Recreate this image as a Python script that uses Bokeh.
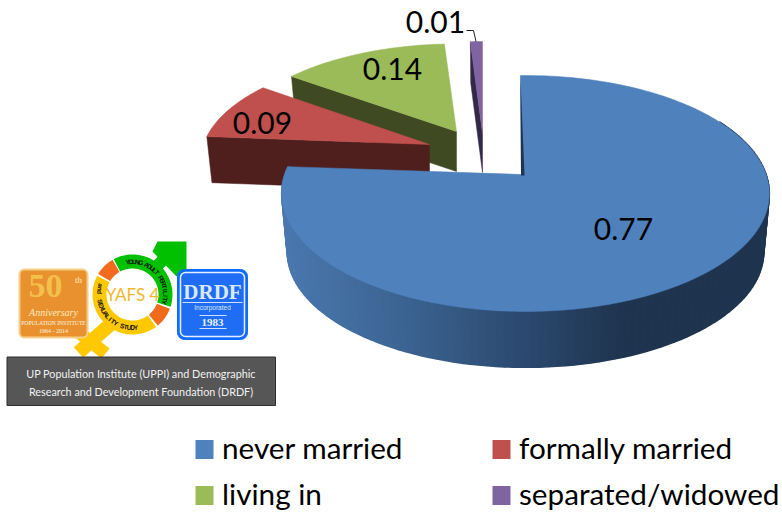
import numpy as np
from bokeh.plotting import figure
from bokeh.models import Range1d
from bokeh.core.properties import value
from bokeh.embed import file_html
from bokeh.resources import INLINE

categories = ["never married", "formally married", "living in", "separated/widowed"]
shares = [0.77, 0.09, 0.14, 0.01]
share_labels = ["0.77", "0.09", "0.14", "0.01"]
top_colors = ["#4f81bd", "#c0504d", "#9bbb59", "#8064a2"]
face_colors = ["#1f344e", "#4f1f1e", "#3f4a22", "#342847"]

# projection of each exploded slice: apex x, apex y, radius, depth radius, thickness
slice_geo = [(525, 175, 241, 115.25, 59), (429, 144, 226, 104, 46),
             (456, 131, 224, 101, 40), (482, 133, 224, 106, 39)]
label_pos = [(623, 228), (262, 122), (392, 68), (435, 21)]
legend_pos = [(195, 449), (492, 449), (195, 495), (492, 495)]
PERSP, SHRINK = 0.1525, 0.977
FONT = "Lato"

p = figure(width=782, height=512, output_backend="svg", toolbar_location=None,
           x_range=Range1d(0, 782), y_range=Range1d(512, 0), min_border=0,
           outline_line_color=None, background_fill_color="white")
p.axis.visible = False
p.grid.visible = False


def top_pt(t, g):
    ax, ay, R, B, _ = g
    X, Y = np.sin(t), np.cos(t)
    w = 1 + PERSP * Y
    return ax + R * X / w, ay - B * Y / w


def bot_pt(t, g):
    ax, ay, R, B, d = g
    X, Y = np.sin(t), np.cos(t)
    w = 1 + PERSP * Y
    return ax + SHRINK * R * X / w, ay + d - SHRINK * B * Y / w


fr = np.array(shares) / sum(shares)
edges = np.concatenate([[0], np.cumsum(fr)]) * 2 * np.pi

# slices behind the big one, back to front
for i in [3, 2, 1]:
    g = slice_geo[i]
    t0, t1 = edges[i], edges[i + 1]
    ax, ay = g[0], g[1]
    xo, yo = top_pt(t0, g)
    xb, yb = bot_pt(t0, g)
    p.patch([xo, ax, ax, xb], [yo, ay, ay + g[4], yb], color=face_colors[i], line_width=0.5)
    ts = np.linspace(t0, t1, 40)
    xs, ys = top_pt(ts, g)
    p.patch([ax, *xs], [ay, *ys], color=top_colors[i], line_width=0.5)

# the big slice: wall as strips shaded along x
g = slice_geo[0]
stops_x = [285, 400, 520, 625]
stops_rgb = np.array([[74, 121, 176], [61, 101, 147], [44, 74, 112], [31, 52, 78]])
ts = np.linspace(np.radians(60), edges[1], 120)
qx, qy, qc = [], [], []
for a, b in zip(ts[:-1], ts[1:]):
    xa, ya = top_pt(a, g); xb, yb = top_pt(b, g)
    xc, yc = bot_pt(b, g); xd, yd = bot_pt(a, g)
    qx.append([xa, xb, xc, xd]); qy.append([ya, yb, yc, yd])
    m = (xc + xd) / 2
    rgb = [int(np.interp(m, stops_x, stops_rgb[:, j])) for j in range(3)]
    qc.append("#%02x%02x%02x" % tuple(rgb))
p.patches(qx, qy, fill_color=qc, line_color=qc, line_width=1.5)

ap_x, ap_y = 521, 174
ts = np.linspace(np.radians(-1.4), edges[1], 300)
xs, ys = top_pt(ts, g)
p.patch([ap_x, *xs], [ap_y, *ys], color=top_colors[0], line_width=0.5)
p.patch([xs[0], ap_x + 3, ap_x - 0.5], [ys[0] + 1, ap_y + 1, ap_y + 1], color=face_colors[0], line_width=0)
p.line([466, 473, 475.5], [30, 30, 41], color="#222222", line_width=1)

lx, ly = zip(*label_pos)
p.text(list(lx), list(ly), text=share_labels, text_font=value(FONT), text_font_size="30px",
       text_align="center", text_baseline="middle", text_color="#000000")

# legend
for (x, y), c, name in zip(legend_pos, top_colors, categories):
    p.quad(left=[x], right=[x + 18], top=[y - 9.5], bottom=[y + 9.5], color=c, line_width=0)
    p.text([x + 26.5], [y - 2.5], text=[name], text_font=value(FONT), text_font_size="29.7px",
           text_baseline="middle", text_color="#000000")

# ---- logo artwork ----
Y_GOLD, GRN, ORG = "#ffc800", "#00c000", "#f26b1d"
cx, cy, r_o, r_i = 132, 294, 40, 26
p.line([112, 78], [322, 352], color=Y_GOLD, line_width=14)
p.line([76, 105], [330, 353], color=Y_GOLD, line_width=13)
p.line([150, 172], [272, 250], color=GRN, line_width=12)
p.patch([152, 157, 186, 186, 176], [251, 241, 241, 270, 276], color=GRN, line_width=0)


def ring(a0, a1, col):
    t = np.radians(np.linspace(a0, a1, 40))
    xo, yo = cx + r_o * np.sin(t), cy - r_o * np.cos(t)
    xi, yi = cx + r_i * np.sin(t[::-1]), cy - r_i * np.cos(t[::-1])
    p.patch([*xo, *xi], [*yo, *yi], color=col, line_width=0)


ring(-28, 108, GRN)
ring(111, 141, ORG)
ring(144, 298, Y_GOLD)
ring(301, 330, ORG)


def arc_text(s, start, step, rad, sign):
    for n, ch in enumerate(s):
        th = start + n * step
        t = np.radians(th)
        rot = th if sign > 0 else th - 180
        p.text([cx + rad * np.sin(t)], [cy - rad * np.cos(t)], text=[ch],
               text_font=value("Liberation Sans"), text_font_size="6.5px", text_font_style="bold",
               text_align="center", text_baseline="middle", text_color="#111111",
               angle=[np.radians(-rot)])


arc_text("YOUNG ADULT FERTILITY", -8, 5.6, 33, 1)
arc_text("and", 286, -6, 33, -1)
arc_text("SEXUALITY STUDY", 258, -6.0, 33, -1)
p.text([132], [294], text=["YAFS 4"], text_font=value(FONT), text_font_size="17px",
       text_align="center", text_baseline="middle", text_color="#f0b82d")

# orange badge
p.quad(left=[19], right=[87], top=[269], bottom=[337], fill_color="#e8912e", line_color="#f5cf8a",
       line_width=2, border_radius=5)
p.text([45], [285], text=["50"], text_font=value("Liberation Serif"), text_font_size="34px",
       text_font_style="bold", text_align="center", text_baseline="middle", text_color="#f3c04c")
p.text([78], [279], text=["th"], text_font=value("Liberation Serif"), text_font_size="9px",
       text_align="center", text_baseline="middle", text_color="#fff0c0")
p.text([53], [312], text=["Anniversary"], text_font=value("Liberation Serif"), text_font_size="10px",
       text_font_style="italic", text_align="center", text_baseline="middle", text_color="#fde9c0")
p.text([53], [322], text=["POPULATION INSTITUTE"], text_font=value("Liberation Serif"), text_font_size="5.6px",
       text_align="center", text_baseline="middle", text_color="#fff5e0")
p.text([53], [330], text=["1964 - 2014"], text_font=value("Liberation Serif"), text_font_size="6px",
       text_align="center", text_baseline="middle", text_color="#fff5e0")

# blue badge
p.quad(left=[177], right=[247], top=[269], bottom=[339], fill_color="#0f6bff", line_color="#0f6bff",
       border_radius=7)
p.quad(left=[180], right=[244], top=[272], bottom=[336], fill_color="#1f6cf5", line_color="#e8f0ff",
       line_width=1.5, border_radius=5)
p.text([212], [291], text=["DRDF"], text_font=value("Liberation Serif"), text_font_size="21px",
       text_font_style="bold", text_align="center", text_baseline="middle", text_color="#dbe8ff")
p.line([182, 242], [302, 302], color="#cfe0ff", line_width=1)
p.text([212], [307], text=["Incorporated"], text_font=value("Liberation Sans"), text_font_size="6.5px",
       text_align="center", text_baseline="middle", text_color="#dbe8ff")
p.text([212], [322], text=["1983"], text_font=value("Liberation Serif"), text_font_size="11px",
       text_font_style="bold", text_align="center", text_baseline="middle", text_color="#eaf2ff")
p.line([199, 226], [315, 315], color="#cfe0ff", line_width=1)
p.line([199, 226], [328, 328], color="#cfe0ff", line_width=1)

# caption box
p.quad(left=[6.5], right=[275], top=[356.5], bottom=[405], fill_color="#565656", line_color="#2f2f2f", line_width=1)
p.text([140.5, 140.5], [373, 391],
       text=["UP Population Institute (UPPI) and Demographic", "Research and Development Foundation (DRDF)"],
       text_font=value(FONT), text_font_size="10.8px",
       text_align="center", text_baseline="middle", text_color="#f2f2f2")

open("out.html", "w").write(file_html(p, INLINE))
